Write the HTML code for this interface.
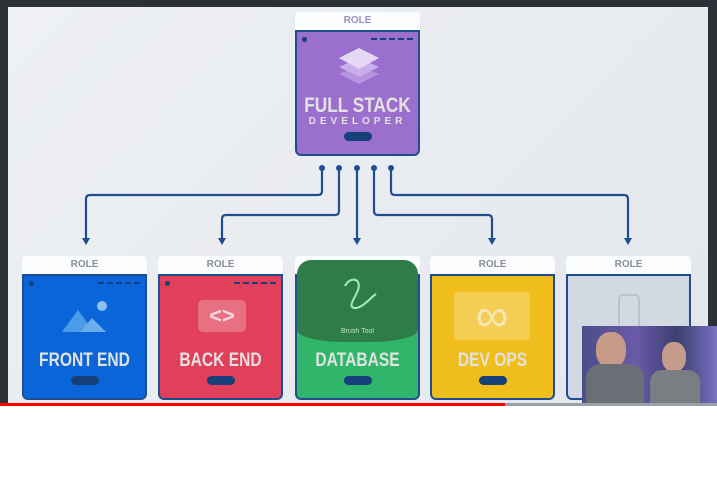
<!DOCTYPE html>
<html><head><style>
*{margin:0;padding:0;box-sizing:border-box}
body{width:717px;height:480px;background:#fff;position:relative;overflow:hidden;font-family:"Liberation Sans",sans-serif}
.frame{position:absolute;left:0;top:0;width:717px;height:405px;background:#2b3136}
.stage{position:absolute;left:8px;top:7px;width:700px;height:398px;background:linear-gradient(135deg,#eef0f3,#e3e7ec)}
.card{position:absolute;width:125px}
.hd{height:18px;background:#fbfcfd;border-radius:4px 4px 0 0;font-size:10px;font-weight:bold;color:#8a8f98;text-align:center;line-height:18px}
.bd{height:126px;border:2px solid #1f4d8f;border-radius:0 0 6px 6px;position:relative;overflow:hidden}
.t{position:absolute;left:-20px;right:-20px;text-align:center;color:#e2e2e2;font-weight:bold;font-size:19px;white-space:nowrap;transform:scaleX(0.82)}
.pill{position:absolute;left:50%;margin-left:-14px;width:28px;height:9px;border-radius:5px;background:#173f7a;bottom:13px}
.dot{position:absolute;left:5px;top:5px;width:5px;height:5px;border-radius:50%;background:#173f7a}
.dash{position:absolute;right:5px;top:6px;width:42px;height:2px;border-top:2px dashed #173f7a}
</style></head><body>
<div class="frame"></div>
<div class="stage"></div>
<svg style="position:absolute;left:0;top:0" width="717" height="405">
<g fill="none" stroke="#1f4d8f" stroke-width="2.2">
<path d="M322 168 V191 Q322 195 318 195 H90 Q86 195 86 199 V240"/>
<path d="M339 168 V211 Q339 215 335 215 H226 Q222 215 222 219 V240"/>
<path d="M357 168 V240"/>
<path d="M374 168 V211 Q374 215 378 215 H488 Q492 215 492 219 V240"/>
<path d="M391 168 V191 Q391 195 395 195 H624 Q628 195 628 199 V240"/>
</g>
<g fill="#1f4d8f">
<circle cx="322" cy="168" r="3"/><circle cx="339" cy="168" r="3"/><circle cx="357" cy="168" r="3"/><circle cx="374" cy="168" r="3"/><circle cx="391" cy="168" r="3"/>
<path d="M82 238 L90 238 L86 245Z"/><path d="M218 238 L226 238 L222 245Z"/><path d="M353 238 L361 238 L357 245Z"/><path d="M488 238 L496 238 L492 245Z"/><path d="M624 238 L632 238 L628 245Z"/>
</g>
</svg>
<div class="card" style="left:295px;top:12px">
<div class="hd" style="color:#9a90c0">ROLE</div>
<div class="bd" style="background:#9b6fce"><div class="dot"></div><div class="dash"></div>
<svg style="position:absolute;left:38px;top:10px" width="48" height="48"><path d="M24 24 L44 32 L24 42 L4 32Z" fill="#b594e0"/><path d="M24 16 L44 25 L24 35 L4 25Z" fill="#c8aeea"/><path d="M24 6 L44 16 L24 27 L4 16Z" fill="#e5d9f6"/></svg>
<div class="t" style="top:62px;font-size:21px">FULL STACK</div>
<div class="t" style="top:84px;font-size:10px;letter-spacing:4px;transform:none">DEVELOPER</div>
<div class="pill" style="bottom:13px"></div></div></div>
<div class="card" style="left:22px;top:256px"><div class="hd">ROLE</div>
<div class="bd" style="background:#0a66d8"><div class="dot"></div><div class="dash"></div>
<svg style="position:absolute;left:36px;top:22px" width="50" height="36"><path d="M2 34 L18 12 L34 34Z" fill="#4a9be8"/><path d="M20 34 L32 20 L46 34Z" fill="#6aaeea"/><circle cx="42" cy="8" r="5" fill="#8cc1f0"/></svg>
<div class="t" style="top:74px">FRONT END</div><div class="pill"></div></div></div>
<div class="card" style="left:158px;top:256px"><div class="hd">ROLE</div>
<div class="bd" style="background:#e0405a"><div class="dot"></div><div class="dash"></div>
<div style="position:absolute;left:38px;top:24px;width:48px;height:32px;border-radius:5px;background:#e87083;color:#f5d8dd;font-weight:bold;font-size:22px;text-align:center;line-height:32px">&lt;&gt;</div>
<div class="t" style="top:74px">BACK END</div><div class="pill"></div></div></div>
<div class="card" style="left:295px;top:256px"><div class="hd">ROLE</div>
<div class="bd" style="background:#2fb66a"><div class="pill"></div>
<div class="t" style="top:74px">DATABASE</div></div>
<div style="position:absolute;left:2px;top:4px;width:121px;height:82px;background:#2e7c48;border-radius:14px 14px 40% 40%/14px 14px 12px 12px"></div>
<svg style="position:absolute;left:45px;top:20px" width="40" height="40"><path d="M5 10 C10 0 22 2 18 14 C14 24 8 30 14 32 C22 33 30 22 36 18" fill="none" stroke="#9ff0c0" stroke-width="2"/></svg>
<div style="position:absolute;left:0;right:0;top:72px;text-align:center;font-size:7px;color:#b9e5c8">Brush Tool</div></div>
<div class="card" style="left:430px;top:256px"><div class="hd">ROLE</div>
<div class="bd" style="background:#f0be1c">
<div style="position:absolute;left:22px;top:16px;width:76px;height:48px;border-radius:4px;background:#f3cd54;color:#f9e7b3;font-size:46px;text-align:center;line-height:46px">∞</div>
<div class="t" style="top:74px">DEV OPS</div><div class="pill"></div></div></div>
<div class="card" style="left:566px;top:256px"><div class="hd">ROLE</div>
<div class="bd" style="background:#d2d9e3">
<div style="position:absolute;left:50px;top:18px;width:22px;height:40px;border:2px solid #b9c2cf;border-radius:5px"></div></div></div>
<div style="position:absolute;left:582px;top:326px;width:135px;height:79px;background:linear-gradient(90deg,#4a4f8a,#6a5aa8 40%,#3a3f70 70%,#7a70c0)">
<div style="position:absolute;left:14px;top:6px;width:30px;height:36px;border-radius:45%;background:#c89a88"></div>
<div style="position:absolute;left:4px;top:38px;width:58px;height:41px;border-radius:14px 14px 0 0;background:#6b6e74"></div>
<div style="position:absolute;left:80px;top:16px;width:24px;height:30px;border-radius:45%;background:#c49c8c"></div>
<div style="position:absolute;left:68px;top:44px;width:50px;height:35px;border-radius:12px 12px 0 0;background:#7a7d82"></div>
</div>
<div style="position:absolute;left:0;top:403px;width:505px;height:3px;background:#f00"></div>
<div style="position:absolute;left:505px;top:403px;width:212px;height:3px;background:#9aa0a6"></div>
</body></html>
